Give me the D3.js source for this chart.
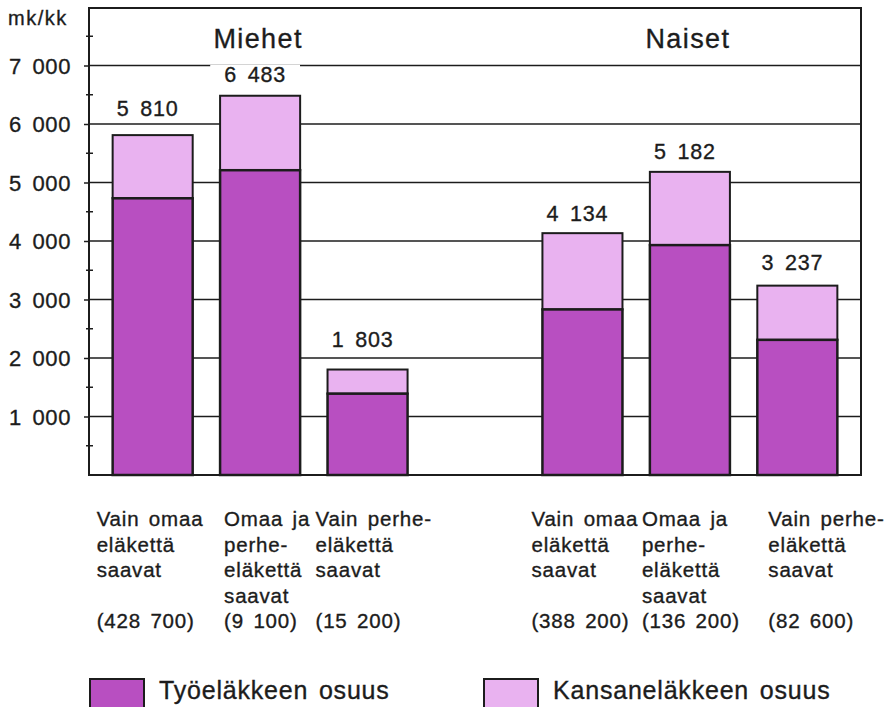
<!DOCTYPE html>
<html>
<head>
<meta charset="utf-8">
<script src="https://cdn.jsdelivr.net/npm/d3@7"></script>
<style>
  html, body { margin: 0; padding: 0; background: #fff; }
  svg { display: block; font-family: "Liberation Sans", Arial, Helvetica, sans-serif; }
  svg text { stroke: #1c1c1c; stroke-width: 0.35px; }
</style>
</head>
<body>
<svg id="chart" width="890" height="707"></svg>
<script>
// ---------- data ----------
const groups = ["Miehet", "Naiset"];
const barKeys = ["M1", "M2", "M3", "N1", "N2", "N3"];
const barGroup = ["Miehet", "Miehet", "Miehet", "Naiset", "Naiset", "Naiset"];
const categoryLines = [
  ["Vain omaa", "eläkettä", "saavat"],
  ["Omaa ja", "perhe-", "eläkettä", "saavat"],
  ["Vain perhe-", "eläkettä", "saavat"],
  ["Vain omaa", "eläkettä", "saavat"],
  ["Omaa ja", "perhe-", "eläkettä", "saavat"],
  ["Vain perhe-", "eläkettä", "saavat"]
];
const counts = ["(428 700)", "(9 100)", "(15 200)", "(388 200)", "(136 200)", "(82 600)"];
const totals = [5810, 6483, 1803, 4134, 5182, 3237];           // mk/kk yhteensä
const tyoelake = [4730, 5210, 1390, 2830, 3930, 2310];         // Työeläkkeen osuus
const kansanelake = totals.map((t, i) => t - tyoelake[i]);     // Kansaneläkkeen osuus
const yTicks = [1000, 2000, 3000, 4000, 5000, 6000, 7000];
const yMinorTicks = [500, 1500, 2500, 3500, 4500, 5500, 6500, 7500];
const seriesNames = ["Työeläkkeen osuus", "Kansaneläkkeen osuus"];
const unitLabel = "mk/kk";

// ---------- layout ----------
const colors = { tyo: "#b84fc1", kansa: "#e9b2f0", ink: "#1c1c1c" };
const plot = { left: 89, right: 861, top: 8, bottom: 475 };
const labelShift = [-56, -36, -52, -51, -48, -29];  // left edge of category text relative to bar centre
const valueLift = [19, 14, 23, 12, 13, 16];          // gap between bar top and value label baseline

const svg = d3.select("#chart");
const fmt = v => d3.format(",")(v).replace(/,/g, " ");

const x = d3.scaleBand()
  .domain(["M1", "M2", "M3", "gap", "N1", "N2", "N3"])
  .range([plot.left, plot.right])
  .paddingInner(0.255)
  .paddingOuter(0.22);

const y = d3.scaleLinear().domain([0, 8000]).range([plot.bottom, plot.top - 1]);

// gridlines
svg.append("g").selectAll("line").data(yTicks).join("line")
  .attr("x1", plot.left).attr("x2", plot.right)
  .attr("y1", d => y(d)).attr("y2", d => y(d))
  .attr("stroke", colors.ink).attr("stroke-width", 1.5);

// y axis with major ticks (outward) and minor ticks
const yAxis = d3.axisLeft(y).tickValues(yTicks).tickSize(5).tickFormat(fmt);
const ay = svg.append("g").attr("transform", `translate(${plot.left},0)`).call(yAxis);
ay.select(".domain").remove();
ay.selectAll(".tick line").attr("stroke", colors.ink).attr("stroke-width", 1.5);
ay.selectAll(".tick text")
  .attr("x", -18)
  .attr("fill", colors.ink)
  .style("font-size", "22px")
  .style("letter-spacing", "0.6px")
  .style("word-spacing", "4px")
  .attr("dy", "0.36em");

svg.append("g").selectAll("line").data(yMinorTicks).join("line")
  .attr("x1", plot.left - 3).attr("x2", plot.left + 4)
  .attr("y1", d => y(d)).attr("y2", d => y(d))
  .attr("stroke", colors.ink).attr("stroke-width", 1.5);

// frame
svg.append("rect")
  .attr("x", plot.left).attr("y", plot.top)
  .attr("width", plot.right - plot.left).attr("height", plot.bottom - plot.top)
  .attr("fill", "none").attr("stroke", colors.ink).attr("stroke-width", 2);

// bars
const bars = svg.append("g");
barKeys.forEach((k, i) => {
  bars.append("rect")
    .attr("x", x(k)).attr("width", x.bandwidth())
    .attr("y", y(totals[i])).attr("height", y(tyoelake[i]) - y(totals[i]))
    .attr("fill", colors.kansa).attr("stroke", colors.ink).attr("stroke-width", 2);
  bars.append("rect")
    .attr("x", x(k)).attr("width", x.bandwidth())
    .attr("y", y(tyoelake[i])).attr("height", y(0) - y(tyoelake[i]))
    .attr("fill", colors.tyo).attr("stroke", colors.ink).attr("stroke-width", 2.5);
});

// value labels with white knockout background
const vl = svg.append("g");
barKeys.forEach((k, i) => {
  const cx = x(k) + x.bandwidth() / 2 - 5;
  const by = y(totals[i]) - valueLift[i];
  const t = vl.append("text")
    .attr("x", cx).attr("y", by)
    .attr("text-anchor", "middle")
    .attr("fill", colors.ink)
    .style("font-size", "21.5px")
    .style("letter-spacing", "0.8px")
    .style("word-spacing", "4px")
    .text(fmt(totals[i]));
  const bb = t.node().getBBox();
  vl.insert("rect", "text")
    .attr("x", bb.x - 14).attr("y", by - 17)
    .attr("width", bb.width + 28).attr("height", 18)
    .attr("fill", "#fff");
});

// group titles
groups.forEach(g => {
  const keys = barKeys.filter((k, i) => barGroup[i] === g);
  const cx = (x(keys[0]) + x(keys[keys.length - 1]) + x.bandwidth()) / 2;
  svg.append("text")
    .attr("x", cx - 2).attr("y", 48)
    .attr("text-anchor", "middle")
    .attr("fill", colors.ink)
    .style("font-size", "27px")
    .style("letter-spacing", "1.4px")
    .text(g);
});

// unit label
svg.append("text")
  .attr("x", 8).attr("y", 25)
  .attr("fill", colors.ink)
  .style("font-size", "20px")
  .style("letter-spacing", "1.5px")
  .text(unitLabel);

// category labels
const lineH = 25.5;
barKeys.forEach((k, i) => {
  const lx = x(k) + x.bandwidth() / 2 + labelShift[i];
  const t = svg.append("text")
    .attr("fill", colors.ink)
    .style("font-size", "20.5px")
    .style("letter-spacing", "0.8px")
    .style("word-spacing", "3px");
  categoryLines[i].forEach((ln, j) => {
    t.append("tspan").attr("x", lx).attr("y", 526 + j * lineH).text(ln);
  });
  t.append("tspan").attr("x", lx).attr("y", 526 + 4 * lineH).text(counts[i]);
});

// legend
const legend = [
  { name: seriesNames[0], color: colors.tyo, x: 90 },
  { name: seriesNames[1], color: colors.kansa, x: 484 }
];
legend.forEach(d => {
  svg.append("rect")
    .attr("x", d.x).attr("y", 679).attr("width", 54).attr("height", 34)
    .attr("fill", d.color).attr("stroke", colors.ink).attr("stroke-width", 2);
  svg.append("text")
    .attr("x", d.x + 69).attr("y", 699)
    .attr("fill", colors.ink)
    .style("font-size", "25px")
    .style("letter-spacing", "0.8px")
    .style("word-spacing", "3px")
    .text(d.name);
});
</script>
</body>
</html>
